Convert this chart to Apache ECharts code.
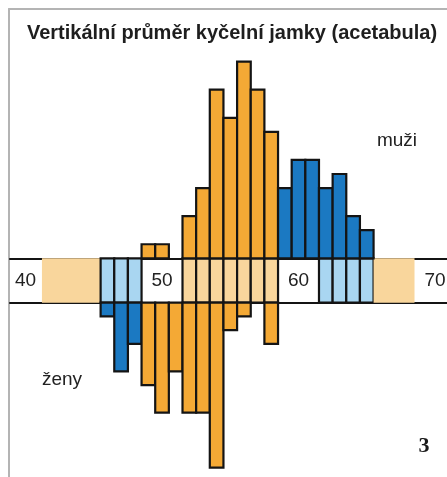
<!DOCTYPE html>
<html><head><meta charset="utf-8">
<script src="https://cdn.jsdelivr.net/npm/echarts@6/dist/echarts.min.js"></script>
<style>html,body{margin:0;padding:0;background:#fff}#c{width:447px;height:477px}</style>
</head><body><div id="c"></div>
<script>
// Data (bins in mm, counts)
const menBins   = [49, 50, 52, 53, 54, 55, 56, 57, 58, 59, 60, 61, 62, 63, 64, 65];
const menCounts = [ 1,  1,  3,  5, 12, 10, 14, 12,  9,  5,  7,  7,  5,  6,  3,  2];
const menGroup  = ['o','o','o','o','o','o','o','o','o','b','b','b','b','b','b','b'];
const womenBins   = [46, 47, 48, 49, 50, 51, 52, 53, 54, 55, 56, 58];
const womenCounts = [ 1,  5,  3,  6,  8,  5,  8,  8, 12,  2,  1,  3];
const womenGroup  = ['b','b','b','o','o','o','o','o','o','o','o','o'];
const tickValues = [40, 50, 60, 70];
const tickLabels = ['40', '50', '60', '70'];
// band cells: [from, to, colour group, separated]
const bandCells = [
  [41.2, 45.5, 'lo', 0],
  [45.5, 46.5, 'lb', 1], [46.5, 47.5, 'lb', 1], [47.5, 48.5, 'lb', 1],
  [51.5, 52.5, 'lo', 1], [52.5, 53.5, 'lo', 1], [53.5, 54.5, 'lo', 1], [54.5, 55.5, 'lo', 1],
  [55.5, 56.5, 'lo', 1], [56.5, 57.5, 'lo', 1], [57.5, 58.5, 'lo', 1],
  [61.5, 62.5, 'lb', 1], [62.5, 63.5, 'lb', 1], [63.5, 64.5, 'lb', 1], [64.5, 65.5, 'lb', 1],
  [65.5, 68.5, 'lo', 0]
];
const titleText = 'Vertikální průměr kyčelní jamky (acetabula)';

const COLORS = { o: '#f4a935', b: '#1b79c2', lo: '#f9d69c', lb: '#a9d6f1' };
const xMin = 38.86, xMax = 70.88;

const chart = echarts.init(document.getElementById('c'), null, { renderer: 'canvas' });

function barRender(groups) {
  return function (params, api) {
    const k = api.value(0), v = api.value(1);
    const a = api.coord([k - 0.5, 0]);
    const b = api.coord([k + 0.5, v]);
    return {
      type: 'rect',
      shape: { x: a[0], y: Math.min(a[1], b[1]), width: b[0] - a[0], height: Math.abs(b[1] - a[1]) },
      style: { fill: COLORS[groups[params.dataIndex]], stroke: '#141414', lineWidth: 2.2 }
    };
  };
}

function noAxis(extra) {
  return Object.assign({ axisLine: { show: false }, axisTick: { show: false }, axisLabel: { show: false }, splitLine: { show: false } }, extra);
}

const option = {
  animation: false,
  grid: [
    { left: 10, right: 0, top: 40, bottom: 218.7 },          // men
    { left: 10, right: 0, top: 258.3, bottom: 174.3 },       // band
    { left: 10, right: 0, top: 302.7, bottom: 0 },           // women
    { left: 9, right: -5, top: 9, bottom: -5 }               // frame
  ],
  xAxis: [
    noAxis({ type: 'value', gridIndex: 0, min: xMin, max: xMax }),
    noAxis({ type: 'value', gridIndex: 1, min: xMin, max: xMax, position: 'bottom',
      axisLine: { show: true, onZero: false, lineStyle: { color: '#141414', width: 2.2 } } }),
    noAxis({ type: 'value', gridIndex: 1, min: xMin, max: xMax, position: 'top',
      axisLine: { show: true, onZero: false, lineStyle: { color: '#141414', width: 2.2 } } }),
    noAxis({ type: 'value', gridIndex: 2, min: xMin, max: xMax }),
    noAxis({ type: 'value', gridIndex: 3, min: 0, max: 1, position: 'top',
      axisLine: { show: true, onZero: false, lineStyle: { color: '#b4b4b4', width: 2 } } })
  ],
  yAxis: [
    noAxis({ type: 'value', gridIndex: 0, min: 0, max: 218.3 / 14.05 }),
    noAxis({ type: 'value', gridIndex: 1, min: 0, max: 1 }),
    noAxis({ type: 'value', gridIndex: 2, min: 0, max: 174.3 / 13.75, inverse: true }),
    noAxis({ type: 'value', gridIndex: 3, min: 0, max: 1,
      axisLine: { show: true, onZero: false, lineStyle: { color: '#b4b4b4', width: 2 } } })
  ],
  series: [
    {
      type: 'custom', xAxisIndex: 1, yAxisIndex: 1, z: 1,
      data: bandCells,
      renderItem: function (params, api) {
        const c = bandCells[params.dataIndex];
        const a = api.coord([c[0], 0]);
        const b = api.coord([c[1], 1]);
        return {
          type: 'rect',
          shape: { x: a[0], y: b[1], width: b[0] - a[0], height: a[1] - b[1] },
          style: { fill: COLORS[c[2]], stroke: c[3] ? '#141414' : null, lineWidth: c[3] ? 2.2 : 0 }
        };
      }
    },
    {
      type: 'custom', xAxisIndex: 1, yAxisIndex: 1, z: 2,
      data: tickValues.map((v, i) => [v, 0.5]),
      renderItem: function (params, api) {
        const p = api.coord([api.value(0), 0.5]);
        return {
          type: 'text',
          style: { x: p[0], y: p[1], text: tickLabels[params.dataIndex], align: 'center', verticalAlign: 'middle',
            fill: '#222', font: '19px "Liberation Sans", Arial, sans-serif' }
        };
      }
    },
    {
      type: 'custom', xAxisIndex: 0, yAxisIndex: 0, z: 3,
      data: menBins.map((b, i) => [b, menCounts[i]]),
      renderItem: barRender(menGroup)
    },
    {
      type: 'custom', xAxisIndex: 3, yAxisIndex: 2, z: 3,
      data: womenBins.map((b, i) => [b, womenCounts[i]]),
      renderItem: barRender(womenGroup)
    }
  ],
  graphic: [
    { type: 'text', x: 232, y: 33, style: { text: titleText, align: 'center', verticalAlign: 'middle', fill: '#1e1e1e',
      font: 'bold 20px "Liberation Sans", Arial, sans-serif' } },
    { type: 'text', x: 397, y: 141, style: { text: 'muži', align: 'center', verticalAlign: 'middle', fill: '#222',
      font: '19px "Liberation Sans", Arial, sans-serif' } },
    { type: 'text', x: 62, y: 380, style: { text: 'ženy', align: 'center', verticalAlign: 'middle', fill: '#222',
      font: '19px "Liberation Sans", Arial, sans-serif' } },
    { type: 'text', x: 424, y: 446, style: { text: '3', align: 'center', verticalAlign: 'middle', fill: '#1a1a1a',
      font: 'bold 22px "Liberation Serif", "Times New Roman", serif' } }
  ]
};
chart.setOption(option);
</script>
</body></html>
